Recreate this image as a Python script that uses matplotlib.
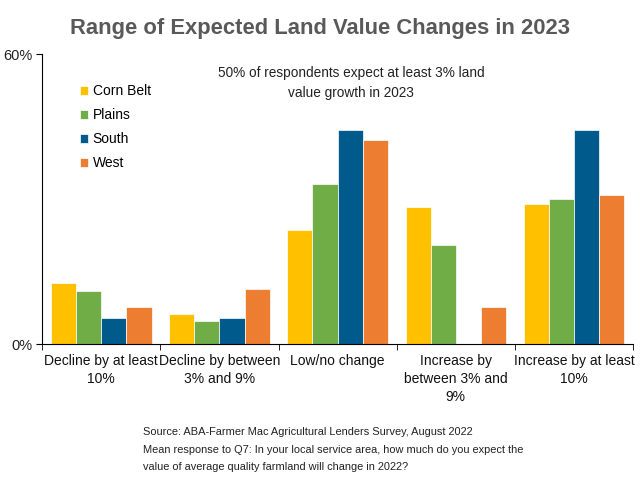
import matplotlib
matplotlib.use("Agg")
import matplotlib.pyplot as plt
from matplotlib.ticker import FixedLocator
import numpy as np

plt.rcParams['font.family'] = ['Liberation Sans', 'DejaVu Sans']

categories = ["Decline by at least\n10%", "Decline by between\n3% and 9%", "Low/no change",
              "Increase by\nbetween 3% and\n9%", "Increase by at least\n10%"]
regions = ["Corn Belt", "Plains", "South", "West"]
corn_belt = [12.6, 6.2, 23.6, 28.3, 29.1]
plains = [11.0, 4.7, 33.2, 20.6, 30.1]
south = [5.5, 5.5, 44.4, 0.0, 44.4]
west = [7.6, 11.5, 42.3, 7.6, 30.8]
colors = ["#FFC000", "#70AD47", "#005A8C", "#ED7D31"]

fig = plt.figure(figsize=(6.4, 4.8), dpi=100)
ax = fig.add_axes([0.066, 0.283, 0.923, 0.604])

x = np.arange(len(categories))
w = 0.2125
for i, vals in enumerate([corn_belt, plains, south, west]):
    ax.bar(x + (i - 1.5) * w, vals, w, color=colors[i], label=regions[i],
           edgecolor="white", linewidth=0.5)

ax.set_xlim(-0.5, 4.5)
ax.set_ylim(0, 60)
ax.set_yticks([0, 60])
ax.set_yticklabels(["0%", "60%"], fontsize=10.5, color="#222222")
ax.set_xticks(x)
ax.set_xticklabels(categories, fontsize=10, color="#111111", linespacing=1.35)
ax.tick_params(axis="x", which="major", length=0, pad=7)
ax.xaxis.set_minor_locator(FixedLocator(np.arange(-0.5, 5, 1)))
ax.tick_params(axis="x", which="minor", length=4, direction="out")
ax.tick_params(axis="y", length=4, direction="out", pad=3)
for s in ["top", "right"]:
    ax.spines[s].set_visible(False)

ax.legend(loc="upper left", bbox_to_anchor=(0.043, 0.94), frameon=False, fontsize=10,
          handlelength=0.6, handleheight=0.6, handletextpad=0.3, labelspacing=0.72)

ax.text(0.523, 0.96, "50% of respondents expect at least 3% land\nvalue growth in 2023",
        transform=ax.transAxes, ha="center", va="top", fontsize=9.8, color="#222222",
        linespacing=1.55)

fig.text(0.5, 0.94, "Range of Expected Land Value Changes in 2023", ha="center", va="center",
         fontsize=15.8, fontweight="bold", color="#595959")

fig.text(0.223, 0.11, "Source: ABA-Farmer Mac Agricultural Lenders Survey, August 2022\n"
         "Mean response to Q7: In your local service area, how much do you expect the\n"
         "value of average quality farmland will change in 2022?",
         ha="left", va="top", fontsize=7.9, color="#222222", linespacing=1.95)

fig.savefig("out.png", dpi=100)
